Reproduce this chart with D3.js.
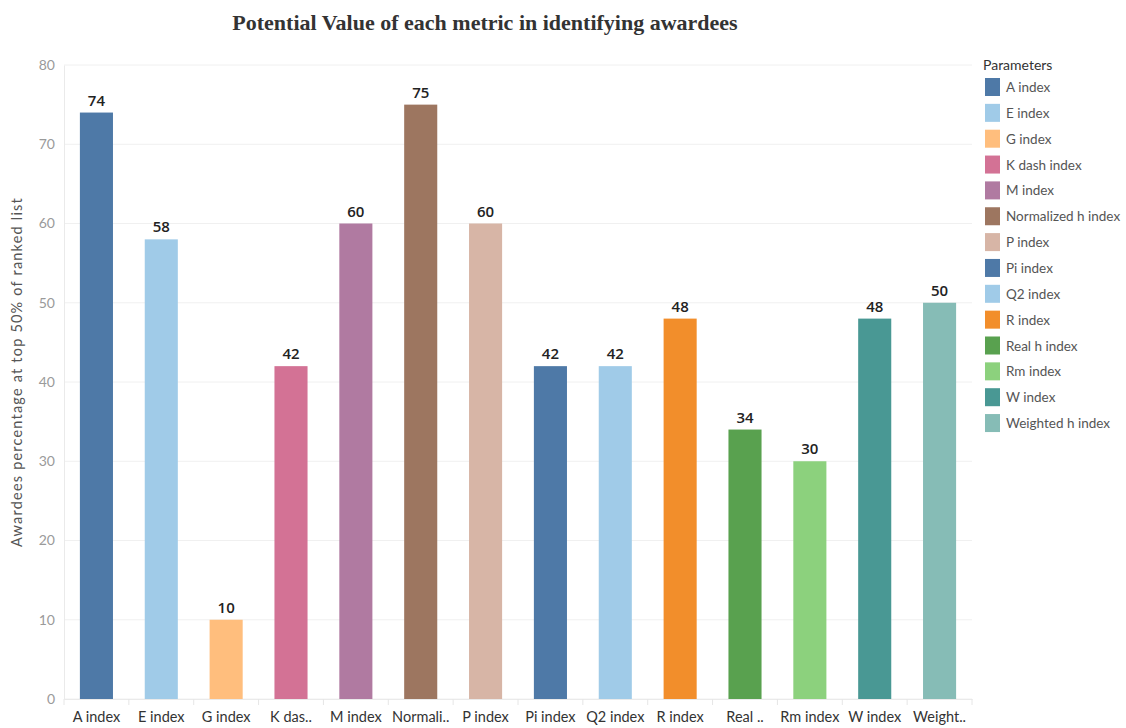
<!DOCTYPE html>
<html>
<head>
<meta charset="utf-8">
<script src="https://cdn.jsdelivr.net/npm/d3@7"></script>
<style>
  html, body { margin: 0; padding: 0; background: #fff; }
  svg { display: block; }
</style>
</head>
<body>
<svg id="chart" width="1126" height="728"></svg>
<script>
// Metric names, legend entries, axis labels and values
const categories = ["A index", "E index", "G index", "K dash index", "M index", "Normalized h index", "P index",
  "Pi index", "Q2 index", "R index", "Real h index", "Rm index", "W index", "Weighted h index"];
const axisLabels = ["A index", "E index", "G index", "K das..", "M index", "Normali..", "P index",
  "Pi index", "Q2 index", "R index", "Real ..", "Rm index", "W index", "Weight.."];
const values = [74, 58, 10, 42, 60, 75, 60, 42, 42, 48, 34, 30, 48, 50];
const colors = ["#4e79a7", "#a0cbe8", "#ffbe7d", "#d37295", "#b07aa1", "#9d7660", "#d7b5a6",
  "#4e79a7", "#a0cbe8", "#f28e2b", "#59a14f", "#8cd17d", "#499894", "#86bcb6"];
const yTicks = [0, 10, 20, 30, 40, 50, 60, 70, 80];

const svg = d3.select("#chart");
const plotLeft = 64, plotRight = 972, plotTop = 65, plotBottom = 699;
const font = "Lato, 'Noto Sans', sans-serif";

const x = d3.scaleBand().domain(categories).range([plotLeft, plotRight]).paddingInner(0.49).paddingOuter(0.245);
const y = d3.scaleLinear().domain([0, 80]).range([plotBottom, plotTop]);
const color = d3.scaleOrdinal().domain(categories).range(colors);

// Title
svg.append("text")
  .attr("x", 485).attr("y", 30)
  .attr("text-anchor", "middle")
  .attr("font-family", "'Liberation Serif', 'Times New Roman', serif")
  .attr("font-weight", "bold")
  .attr("font-size", 22)
  .attr("fill", "#333")
  .text("Potential Value of each metric in identifying awardees");

// Gridlines
svg.append("g").selectAll("line").data(yTicks).join("line")
  .attr("x1", plotLeft).attr("x2", plotRight)
  .attr("y1", d => y(d)).attr("y2", d => y(d))
  .attr("stroke", "#f0f0f0").attr("stroke-width", 1);

// Y axis
const yAxis = svg.append("g").attr("transform", `translate(${plotLeft},0)`)
  .call(d3.axisLeft(y).tickValues(yTicks).tickSize(0).tickPadding(9));
yAxis.select(".domain").attr("stroke", "#eaeaea");
yAxis.selectAll("text").attr("font-family", font).attr("font-size", 14).attr("fill", "#9a9a9a");

// Y axis title
svg.append("text")
  .attr("transform", `translate(22,372) rotate(-90)`)
  .attr("text-anchor", "middle")
  .attr("font-family", font).attr("font-size", 14.5)
  .attr("fill", "#555")
  .attr("letter-spacing", 1.2)
  .text("Awardees percentage at top 50% of ranked list");

// X axis with band separators
const xAxis = svg.append("g").attr("transform", `translate(0,${plotBottom})`)
  .call(d3.axisBottom(x).tickSize(0).tickPadding(13).tickFormat((d, i) => axisLabels[i]));
xAxis.select(".domain").attr("stroke", "#eaeaea");
xAxis.selectAll("text").attr("font-family", font).attr("font-size", 14.5).attr("fill", "#333");
svg.append("g").selectAll("line").data(categories).join("line")
  .attr("x1", d => x(d) - x.step() * x.paddingInner() / 2)
  .attr("x2", d => x(d) - x.step() * x.paddingInner() / 2)
  .attr("y1", plotBottom).attr("y2", plotBottom + 6)
  .attr("stroke", "#e6e6e6");
svg.append("line")
  .attr("x1", plotRight).attr("x2", plotRight).attr("y1", plotBottom).attr("y2", plotBottom + 6)
  .attr("stroke", "#e6e6e6");

// Bars
svg.append("g").selectAll("rect").data(categories).join("rect")
  .attr("x", d => x(d))
  .attr("width", x.bandwidth())
  .attr("y", (d, i) => y(values[i]))
  .attr("height", (d, i) => y(0) - y(values[i]))
  .attr("fill", d => color(d));

// Value labels
svg.append("g").selectAll("text").data(categories).join("text")
  .attr("x", d => x(d) + x.bandwidth() / 2)
  .attr("y", (d, i) => y(values[i]) - 7)
  .attr("text-anchor", "middle")
  .attr("font-family", "'Open Sans', Lato, sans-serif").attr("font-size", 15)
  .attr("font-weight", 600)
  .attr("fill", "#222")
  .text((d, i) => values[i]);

// Legend
const legend = svg.append("g").attr("transform", "translate(983,0)");
legend.append("text")
  .attr("x", 0).attr("y", 70)
  .attr("font-family", font).attr("font-size", 14)
  .attr("fill", "#333")
  .text("Parameters");
const rows = legend.selectAll("g.row").data(categories).join("g")
  .attr("class", "row")
  .attr("transform", (d, i) => `translate(0,${78 + i * 25.85})`);
rows.append("rect")
  .attr("x", 2).attr("y", 0).attr("width", 15).attr("height", 18)
  .attr("fill", d => color(d));
rows.append("text")
  .attr("x", 23).attr("y", 14)
  .attr("font-family", font).attr("font-size", 13.5)
  .attr("fill", "#555")
  .text(d => d);
</script>
</body>
</html>
